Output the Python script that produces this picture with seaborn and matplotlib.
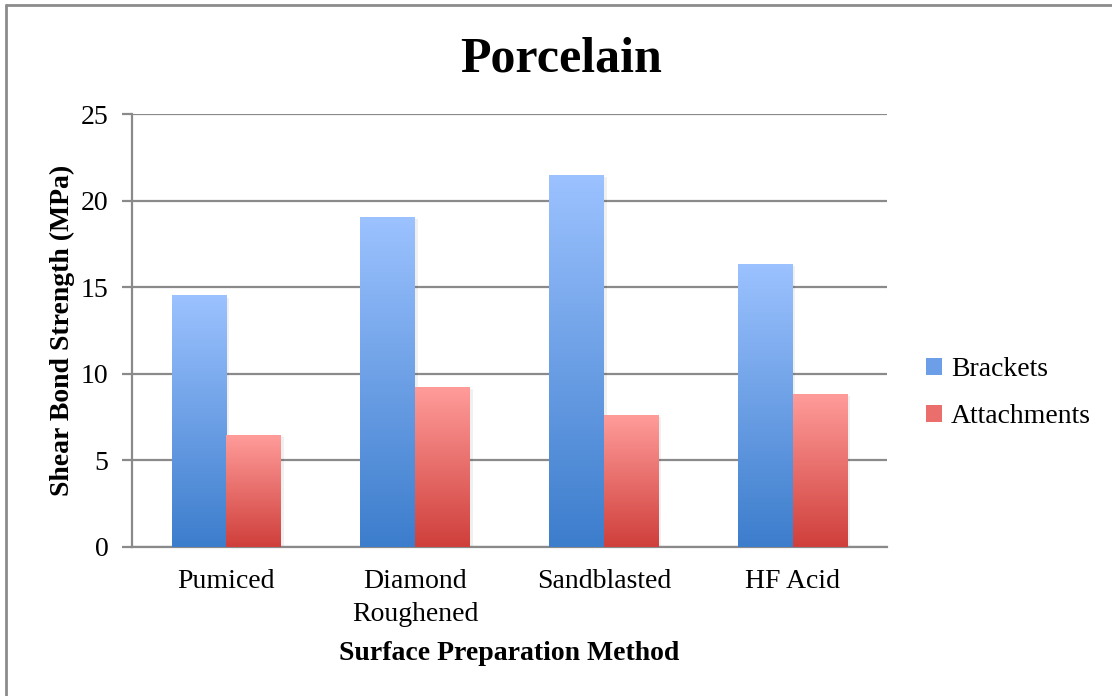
import numpy as np
import pandas as pd
import matplotlib
matplotlib.use("Agg")
import matplotlib.pyplot as plt
from matplotlib.lines import Line2D
from matplotlib.patches import Patch
from matplotlib.colors import LinearSegmentedColormap
import seaborn as sns

# data
methods = ["Pumiced", "Diamond\nRoughened", "Sandblasted", "HF Acid"]
brackets = [14.5, 19.05, 21.45, 16.33]
attachments = [6.45, 9.22, 7.61, 8.82]
series = ["Brackets", "Attachments"]

df = pd.DataFrame({
    "method": methods * 2,
    "value": brackets + attachments,
    "series": ["Brackets"] * len(methods) + ["Attachments"] * len(methods),
})

sns.set_style("white")
plt.rcParams["font.family"] = ["Liberation Serif", "DejaVu Serif"]
plt.rcParams["text.color"] = "black"
plt.rcParams["axes.labelcolor"] = "black"

# top -> bottom gradient colours
grad = {
    "Brackets": ("#9cc2ff", "#3c7dcc"),
    "Attachments": ("#ff9c9a", "#cf3f3b"),
}

fig = plt.figure(figsize=(11.12, 6.96), dpi=100)
ax = fig.add_axes([0.1187, 0.2141, 0.6790, 0.6221])

sns.barplot(data=df, x="method", y="value", hue="series", hue_order=series,
            palette=[grad[s][1] for s in series], width=0.58, dodge=True,
            legend=False, ax=ax, zorder=3)

# swap the flat bars for vertical gradients
bars = list(ax.patches)
n = len(methods)
for i, p in enumerate(bars):
    s = series[i // n]
    top, bot = grad[s]
    cmap = LinearSegmentedColormap.from_list(s, [bot, top])
    x0, y0 = p.get_x(), p.get_y()
    w, h = p.get_width(), p.get_height()
    g = np.linspace(0, 1, 256).reshape(-1, 1)
    # soft shadow
    ax.add_patch(plt.Rectangle((x0 + 0.015, y0), w, h - 0.1, color="#000000",
                               alpha=0.06, lw=0, zorder=2.5))
    ax.imshow(g, cmap=cmap, origin="lower", aspect="auto",
              extent=(x0, x0 + w, y0, y0 + h), zorder=3, interpolation="bicubic")
    p.set_visible(False)
ax.set_xlim(-0.5, len(methods) - 0.5)
ax.set_ylim(0, 25)

grid_c = "#8a8a8a"
ax.set_yticks([0, 5, 10, 15, 20, 25])
ax.yaxis.grid(True, color=grid_c, lw=1.6, zorder=0)
ax.set_axisbelow(True)
for sp in ["top", "right"]:
    ax.spines[sp].set_visible(False)
ax.spines["left"].set_color(grid_c)
ax.spines["left"].set_linewidth(1.6)
ax.spines["bottom"].set_color(grid_c)
ax.spines["bottom"].set_linewidth(1.6)

ax.tick_params(axis="y", left=True, length=7, width=1.6, color=grid_c,
               pad=10, labelsize=20, labelcolor="black")
ax.tick_params(axis="x", bottom=False, length=0, pad=16, labelsize=20,
               labelcolor="black")
ax.set_xticks(range(n))
ax.set_xticklabels(methods, linespacing=1.4)

ax.set_xlabel("Surface Preparation Method", fontsize=20, fontweight="bold",
              labelpad=10)
ax.set_ylabel("Shear Bond Strength (MPa)", fontsize=20, fontweight="bold",
              labelpad=4)

fig.suptitle("Porcelain", fontsize=36, fontweight="bold", x=0.505, y=0.948,
             color="black")

handles = [Patch(facecolor="#6d9fe8", edgecolor="none"),
           Patch(facecolor="#ea6f6c", edgecolor="none")]
fig.legend(handles, series, loc="center left", bbox_to_anchor=(0.815, 0.435),
           frameon=False, fontsize=20, handlelength=0.6, handleheight=0.6,
           handletextpad=0.3, labelspacing=0.8, borderpad=0.2)

# outer chart border (left and top edges visible)
fig.add_artist(Line2D([6 / 1112, 6 / 1112], [0, 1 - 5 / 696], color="#8c8c8c",
                      lw=2, transform=fig.transFigure))
fig.add_artist(Line2D([6 / 1112, 1], [1 - 5 / 696, 1 - 5 / 696],
                      color="#8c8c8c", lw=2, transform=fig.transFigure))

fig.savefig("out.png", dpi=100, facecolor="white")
